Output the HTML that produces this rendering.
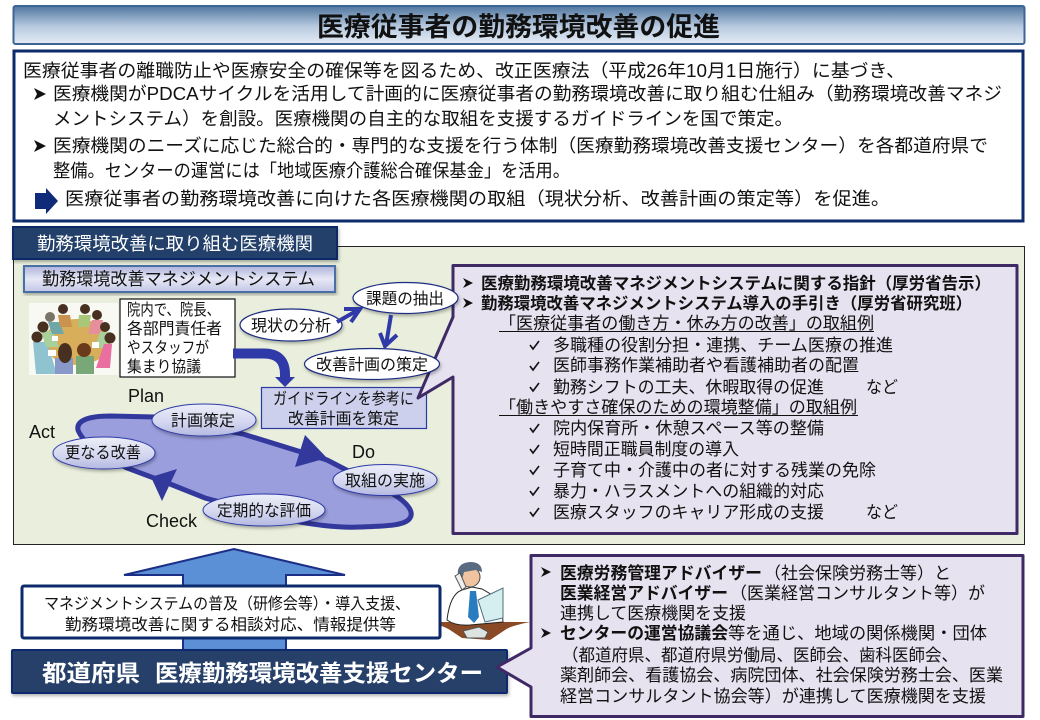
<!DOCTYPE html>
<html lang="ja"><head><meta charset="utf-8"><title>医療従事者の勤務環境改善の促進</title>
<style>
html,body{margin:0;padding:0;background:#fff;width:1040px;height:720px;overflow:hidden}
svg{display:block}
text{font-family:"Liberation Sans","Noto Sans CJK JP",sans-serif;fill:#111}
.a{font-size:18.300px}.bd{font-weight:bold}
.w{fill:#fff}
</style></head><body>
<svg width="1040" height="720" viewBox="0 0 1040 720" xmlns="http://www.w3.org/2000/svg">
<defs>
<linearGradient id="t" x1="0" y1="0" x2="0" y2="1"><stop offset="0" stop-color="#4f769f"/><stop offset=".55" stop-color="#b9cbe0"/><stop offset="1" stop-color="#e3ebf4"/></linearGradient>
<linearGradient id="s" x1="0" y1="0" x2="0" y2="1"><stop offset="0" stop-color="#aeb2dc"/><stop offset=".5" stop-color="#e6e8f5"/><stop offset="1" stop-color="#c3c6e6"/></linearGradient>
<linearGradient id="e" x1="0" y1="0" x2="0" y2="1"><stop offset="0" stop-color="#eceef8"/><stop offset=".6" stop-color="#d2d5ee"/><stop offset="1" stop-color="#b4b8e0"/></linearGradient>
<filter id="sh" x="-5%" y="-10%" width="110%" height="125%"><feDropShadow dx="1" dy="2" stdDeviation="1.500" flood-color="#000" flood-opacity=".3"/></filter>
</defs>

<!-- title -->
<rect x="13.500" y="6" width="1011" height="38" rx="2" fill="url(#t)" stroke="#3c6596" stroke-width="2"/>
<text x="317" y="36" font-size="26.500" class="bd" textLength="403" lengthAdjust="spacingAndGlyphs">医療従事者の勤務環境改善の促進</text>

<!-- main box -->
<rect x="14" y="51" width="1009" height="170" fill="#fff" stroke="#0c2a6c" stroke-width="3"/>
<text class="a" x="23" y="77" textLength="882" lengthAdjust="spacingAndGlyphs">医療従事者の離職防止や医療安全の確保等を図るため、改正医療法（平成26年10月1日施行）に基づき、</text>
<path d="M34 88l12 6l-12 6l3-6z M34 140l12 6l-12 6l3-6z" fill="#111"/>
<text class="a" x="53" y="100" textLength="949" lengthAdjust="spacingAndGlyphs">医療機関がPDCAサイクルを活用して計画的に医療従事者の勤務環境改善に取り組む仕組み（勤務環境改善マネジ</text>
<text class="a" x="53" y="125" textLength="740" lengthAdjust="spacingAndGlyphs">メントシステム）を創設。医療機関の自主的な取組を支援するガイドラインを国で策定。</text>
<text class="a" x="53" y="152" textLength="935" lengthAdjust="spacingAndGlyphs">医療機関のニーズに応じた総合的・専門的な支援を行う体制（医療勤務環境改善支援センター）を各都道府県で</text>
<text class="a" x="53" y="177" textLength="517" lengthAdjust="spacingAndGlyphs">整備。センターの運営には「地域医療介護総合確保基金」を活用。</text>
<path d="M35 193h11v-5l12 13l-12 13v-5h-11z" fill="#0f2a78"/>
<text class="a" x="65" y="205" textLength="825" lengthAdjust="spacingAndGlyphs">医療従事者の勤務環境改善に向けた各医療機関の取組（現状分析、改善計画の策定等）を促進。</text>

<!-- green panel -->
<rect x="13.500" y="246.500" width="1011" height="298" fill="#e9efdc" stroke="#222" stroke-width="1"/>
<rect x="13" y="227" width="324" height="32" fill="#22406b" stroke="#102c68" stroke-width="2" filter="url(#sh)"/>
<text x="37" y="250" font-size="18" class="w" textLength="276" lengthAdjust="spacingAndGlyphs">勤務環境改善に取り組む医療機関</text>
<rect x="24" y="266" width="311" height="26" fill="url(#s)" stroke="#4a6fa5" stroke-width="2" filter="url(#sh)"/>
<text x="42" y="285" font-size="17.500" textLength="273" lengthAdjust="spacingAndGlyphs">勤務環境改善マネジメントシステム</text>

<!-- people illustration -->
<rect x="29" y="303" width="89" height="72" fill="#f8f9f3"/>
<ellipse cx="77" cy="342" rx="33" ry="23" fill="#d9ae5a"/>
<g>
<path d="M33 342h14l8 26v6H36z" fill="#8fc3d0"/>
<path d="M41 331h12l6 16H46z" fill="#a9cf9a"/>
<path d="M48 322h12l4 12H52z" fill="#6fa7a8"/>
<path d="M58 315h12l2 12H60z" fill="#c9924e"/>
<path d="M79 315h12l-2 12H78z" fill="#a8c77a"/>
<path d="M92 320h11l-3 14H88z" fill="#e58f9c"/>
<path d="M100 332h11l-4 16H95z" fill="#a9cf9a"/>
<path d="M104 344h8l-2 24H96z" fill="#e86fa0"/>
<rect x="55" y="358" width="18" height="16" fill="#8898c8"/>
<rect x="76" y="356" width="18" height="18" fill="#78a878"/>
<rect x="52" y="336" width="6" height="5" fill="#fff"/><rect x="92" y="342" width="7" height="6" fill="#fff"/><rect x="48" y="350" width="8" height="6" fill="#fff"/>
</g>
<g fill="#47301f">
<circle cx="37" cy="337" r="5.500"/><circle cx="43" cy="327" r="5.500"/><circle cx="50" cy="317" r="5" fill="#7a7468"/><circle cx="63" cy="309" r="5"/><circle cx="85" cy="309" r="5"/><circle cx="97" cy="315" r="5"/><circle cx="105" cy="327" r="5"/><circle cx="110" cy="338" r="5.500"/>
<ellipse cx="65" cy="353" rx="7" ry="10"/><ellipse cx="84" cy="350" rx="7" ry="7" fill="#6a3a1c"/>
</g>

<rect x="120" y="299" width="115" height="78" fill="#fff" stroke="#111" stroke-width="1.200"/>
<g font-size="16">
<text x="127" y="315" textLength="93" lengthAdjust="spacingAndGlyphs">院内で、院長、</text>
<text x="127" y="334" textLength="95" lengthAdjust="spacingAndGlyphs">各部門責任者</text>
<text x="127" y="353" textLength="82" lengthAdjust="spacingAndGlyphs">やスタッフが</text>
<text x="127" y="372" textLength="74" lengthAdjust="spacingAndGlyphs">集まり協議</text>
</g>

<!-- thick arrow -->
<path d="M233 353.500h31q21 0 21 21V380" fill="none" stroke="#2f3aa8" stroke-width="10"/>
<path d="M275 377h20l-10 10z" fill="#2f3aa8"/>

<!-- guideline box -->
<rect x="261.500" y="387.500" width="165" height="41" fill="#ccd0ec" stroke="#2a3aa0" stroke-width="1.200"/>
<text x="273" y="404" font-size="16" textLength="141" lengthAdjust="spacingAndGlyphs">ガイドラインを参考に</text>
<text x="288" y="424" font-size="16" textLength="111" lengthAdjust="spacingAndGlyphs">改善計画を策定</text>

<!-- right callout -->
<path d="M453 265.500H1017V533.500H453V377L418 398L453 317z" fill="#e6e2ef" stroke="#3f2a66" stroke-width="3" stroke-linejoin="round"/>
<path d="M463 278l10 5l-10 5l3-5z M463 298l10 5l-10 5l3-5z" fill="#111"/>
<text x="481" y="289" font-size="16.500" class="bd" textLength="510" lengthAdjust="spacingAndGlyphs">医療勤務環境改善マネジメントシステムに関する指針（厚労省告示）</text>
<text x="481" y="309" font-size="16.500" class="bd" textLength="491" lengthAdjust="spacingAndGlyphs">勤務環境改善マネジメントシステム導入の手引き（厚労省研究班）</text>
<g font-size="17">
<text x="499" y="329" textLength="375" lengthAdjust="spacingAndGlyphs">「医療従事者の働き方・休み方の改善」の取組例</text>
<text x="499" y="413" textLength="358" lengthAdjust="spacingAndGlyphs">「働きやすさ確保のための環境整備」の取組例</text>
<text x="553" y="351" textLength="340" lengthAdjust="spacingAndGlyphs">多職種の役割分担・連携、チーム医療の推進</text>
<text x="553" y="371" textLength="306" lengthAdjust="spacingAndGlyphs">医師事務作業補助者や看護補助者の配置</text>
<text x="553" y="393" textLength="271" lengthAdjust="spacingAndGlyphs">勤務シフトの工夫、休暇取得の促進</text>
<text x="866" y="393" textLength="32" lengthAdjust="spacingAndGlyphs">など</text>
<text x="553" y="434" textLength="271" lengthAdjust="spacingAndGlyphs">院内保育所・休憩スペース等の整備</text>
<text x="553" y="455" textLength="186" lengthAdjust="spacingAndGlyphs">短時間正職員制度の導入</text>
<text x="553" y="476" textLength="323" lengthAdjust="spacingAndGlyphs">子育て中・介護中の者に対する残業の免除</text>
<text x="553" y="497" textLength="271" lengthAdjust="spacingAndGlyphs">暴力・ハラスメントへの組織的対応</text>
<text x="553" y="518" textLength="271" lengthAdjust="spacingAndGlyphs">医療スタッフのキャリア形成の支援</text>
<text x="866" y="518" textLength="32" lengthAdjust="spacingAndGlyphs">など</text>
</g>
<path d="M499 331.500H874M499 415.500H858" stroke="#111" stroke-width="1" fill="none"/>
<path d="M530 345l3 4l6-8M530 366l3 4l6-8M530 387l3 4l6-8M530 428l3 4l6-8M530 449l3 4l6-8M530 470l3 4l6-8M530 491l3 4l6-8M530 512l3 4l6-8" stroke="#111" stroke-width="1.600" fill="none"/>

<!-- ellipses top -->
<g fill="#fff" stroke="#1f2d80" stroke-width="1.200" filter="url(#sh)">
<ellipse cx="291" cy="325" rx="51" ry="16"/><ellipse cx="405.500" cy="298" rx="52.500" ry="15.500"/><ellipse cx="372" cy="364" rx="67.500" ry="15.500"/>
</g>
<g font-size="16">
<text x="251" y="331" textLength="80" lengthAdjust="spacingAndGlyphs">現状の分析</text>
<text x="366" y="304" textLength="78" lengthAdjust="spacingAndGlyphs">課題の抽出</text>
<text x="316" y="370" textLength="112" lengthAdjust="spacingAndGlyphs">改善計画の策定</text>
</g>
<path d="M337 322L358 310M344 309L360 309L351 322" stroke="#2f3aa8" stroke-width="4" fill="none"/>
<path d="M391 315L386 345M380 333L385 346L397 335" stroke="#2f3aa8" stroke-width="4" fill="none"/>

<!-- cycle -->
<path d="M78 430C76 420 90 416 110 416L155 417L243 434L327 460L393 494C408 503 414 512 410 518C405 526 385 526 360 527C340 528 310 525 280 518L205 498L170 484L127 468Q85 448 78 430z" fill="#9a9edd" stroke="#33389c" stroke-width="5"/>
<path d="M305 435L327 458L295 467z" fill="#33389c"/>
<path d="M177 469L151 477L162 501z" fill="#33389c"/>
<g fill="url(#e)" stroke="#2f3aa8" stroke-width="1" filter="url(#sh)">
<ellipse cx="204" cy="420" rx="52" ry="16"/><ellipse cx="104" cy="453" rx="51" ry="16"/><ellipse cx="385" cy="480" rx="52" ry="15.500"/><ellipse cx="264" cy="510" rx="61" ry="16"/>
</g>
<g font-size="16">
<text x="171" y="426" textLength="64" lengthAdjust="spacingAndGlyphs">計画策定</text>
<text x="65" y="458" textLength="76" lengthAdjust="spacingAndGlyphs">更なる改善</text>
<text x="345" y="486" textLength="80" lengthAdjust="spacingAndGlyphs">取組の実施</text>
<text x="217" y="516" textLength="94" lengthAdjust="spacingAndGlyphs">定期的な評価</text>
</g>
<g font-size="18">
<text x="128" y="402">Plan</text><text x="29" y="438">Act</text><text x="352" y="458">Do</text><text x="146" y="527">Check</text>
</g>

<!-- up arrow -->
<path d="M183 650V575H124L234 549L345 575H286V650z" fill="#5b8fd6" stroke="#1c2f86" stroke-width="2"/>

<!-- man -->
<path d="M424 622H530Q510 626 505 630L490 640L462 638L450 630Q440 624 424 622z" fill="#8a4a25"/>
<path d="M447 620Q450 594 462 590L472 587L482 589L494 596Q502 604 503 622L470 625Q455 626 447 620z" fill="#fff" stroke="#222"/>
<path d="M470 591h6l3 26l-5 6l-6-6z" fill="#2a7cc0"/>
<path d="M478 600L503 588V618L485 622z" fill="#d5eef0" stroke="#4f6f80"/>
<circle cx="470" cy="577" r="10" fill="#f0c4a0" stroke="#444"/>
<path d="M458 576Q456 563 470 562Q482 562 482 572L476 570L464 572L462 580z" fill="#5a6a80"/>
<path d="M455 576l5-3l6 14l-4 3z" fill="#eee" stroke="#555"/>
<path d="M463 631l16-4l9 5l-3 6h-18z" fill="#dde3e0" stroke="#555"/>

<rect x="22" y="586" width="418" height="52" rx="2" fill="#fff" stroke="#0c2a6c" stroke-width="3"/>
<text x="44" y="609" font-size="16" textLength="366" lengthAdjust="spacingAndGlyphs">マネジメントシステムの普及（研修会等）・導入支援、</text>
<text x="65" y="630" font-size="16" textLength="331" lengthAdjust="spacingAndGlyphs">勤務環境改善に関する相談対応、情報提供等</text>

<!-- center bar -->
<rect x="12" y="650" width="495" height="43" rx="1" fill="#27406b" stroke="#0f2a70" stroke-width="2" filter="url(#sh)"/>
<text x="42" y="681" font-size="23" class="bd w" textLength="98" lengthAdjust="spacingAndGlyphs">都道府県</text>
<text x="155" y="681" font-size="23" class="bd w" textLength="328" lengthAdjust="spacingAndGlyphs">医療勤務環境改善支援センター</text>

<!-- bottom right callout -->
<path d="M531 555.500H1023V716.500H531V687L497 667L531 648z" fill="#e6e2ef" stroke="#3f2a66" stroke-width="3" stroke-linejoin="round"/>
<path d="M541 567l10 5l-10 5l3-5z M541 628l10 5l-10 5l3-5z" fill="#111"/>
<g font-size="17">
<text x="560" y="579" class="bd" textLength="202" lengthAdjust="spacingAndGlyphs">医療労務管理アドバイザー</text>
<text x="764" y="579" textLength="187" lengthAdjust="spacingAndGlyphs">（社会保険労務士等）と</text>
<text x="560" y="599" class="bd" textLength="168" lengthAdjust="spacingAndGlyphs">医業経営アドバイザー</text>
<text x="730" y="599" textLength="255" lengthAdjust="spacingAndGlyphs">（医業経営コンサルタント等）が</text>
<text x="560" y="619" textLength="186" lengthAdjust="spacingAndGlyphs">連携して医療機関を支援</text>
<text x="560" y="639" class="bd" textLength="168" lengthAdjust="spacingAndGlyphs">センターの運営協議会</text>
<text x="728" y="639" textLength="259" lengthAdjust="spacingAndGlyphs">等を通じ、地域の関係機関・団体</text>
<text x="562" y="661" textLength="396" lengthAdjust="spacingAndGlyphs">（都道府県、都道府県労働局、医師会、歯科医師会、</text>
<text x="560" y="681" textLength="443" lengthAdjust="spacingAndGlyphs">薬剤師会、看護協会、病院団体、社会保険労務士会、医業</text>
<text x="560" y="702" textLength="426" lengthAdjust="spacingAndGlyphs">経営コンサルタント協会等）が連携して医療機関を支援</text>
</g>
</svg>
</body></html>
